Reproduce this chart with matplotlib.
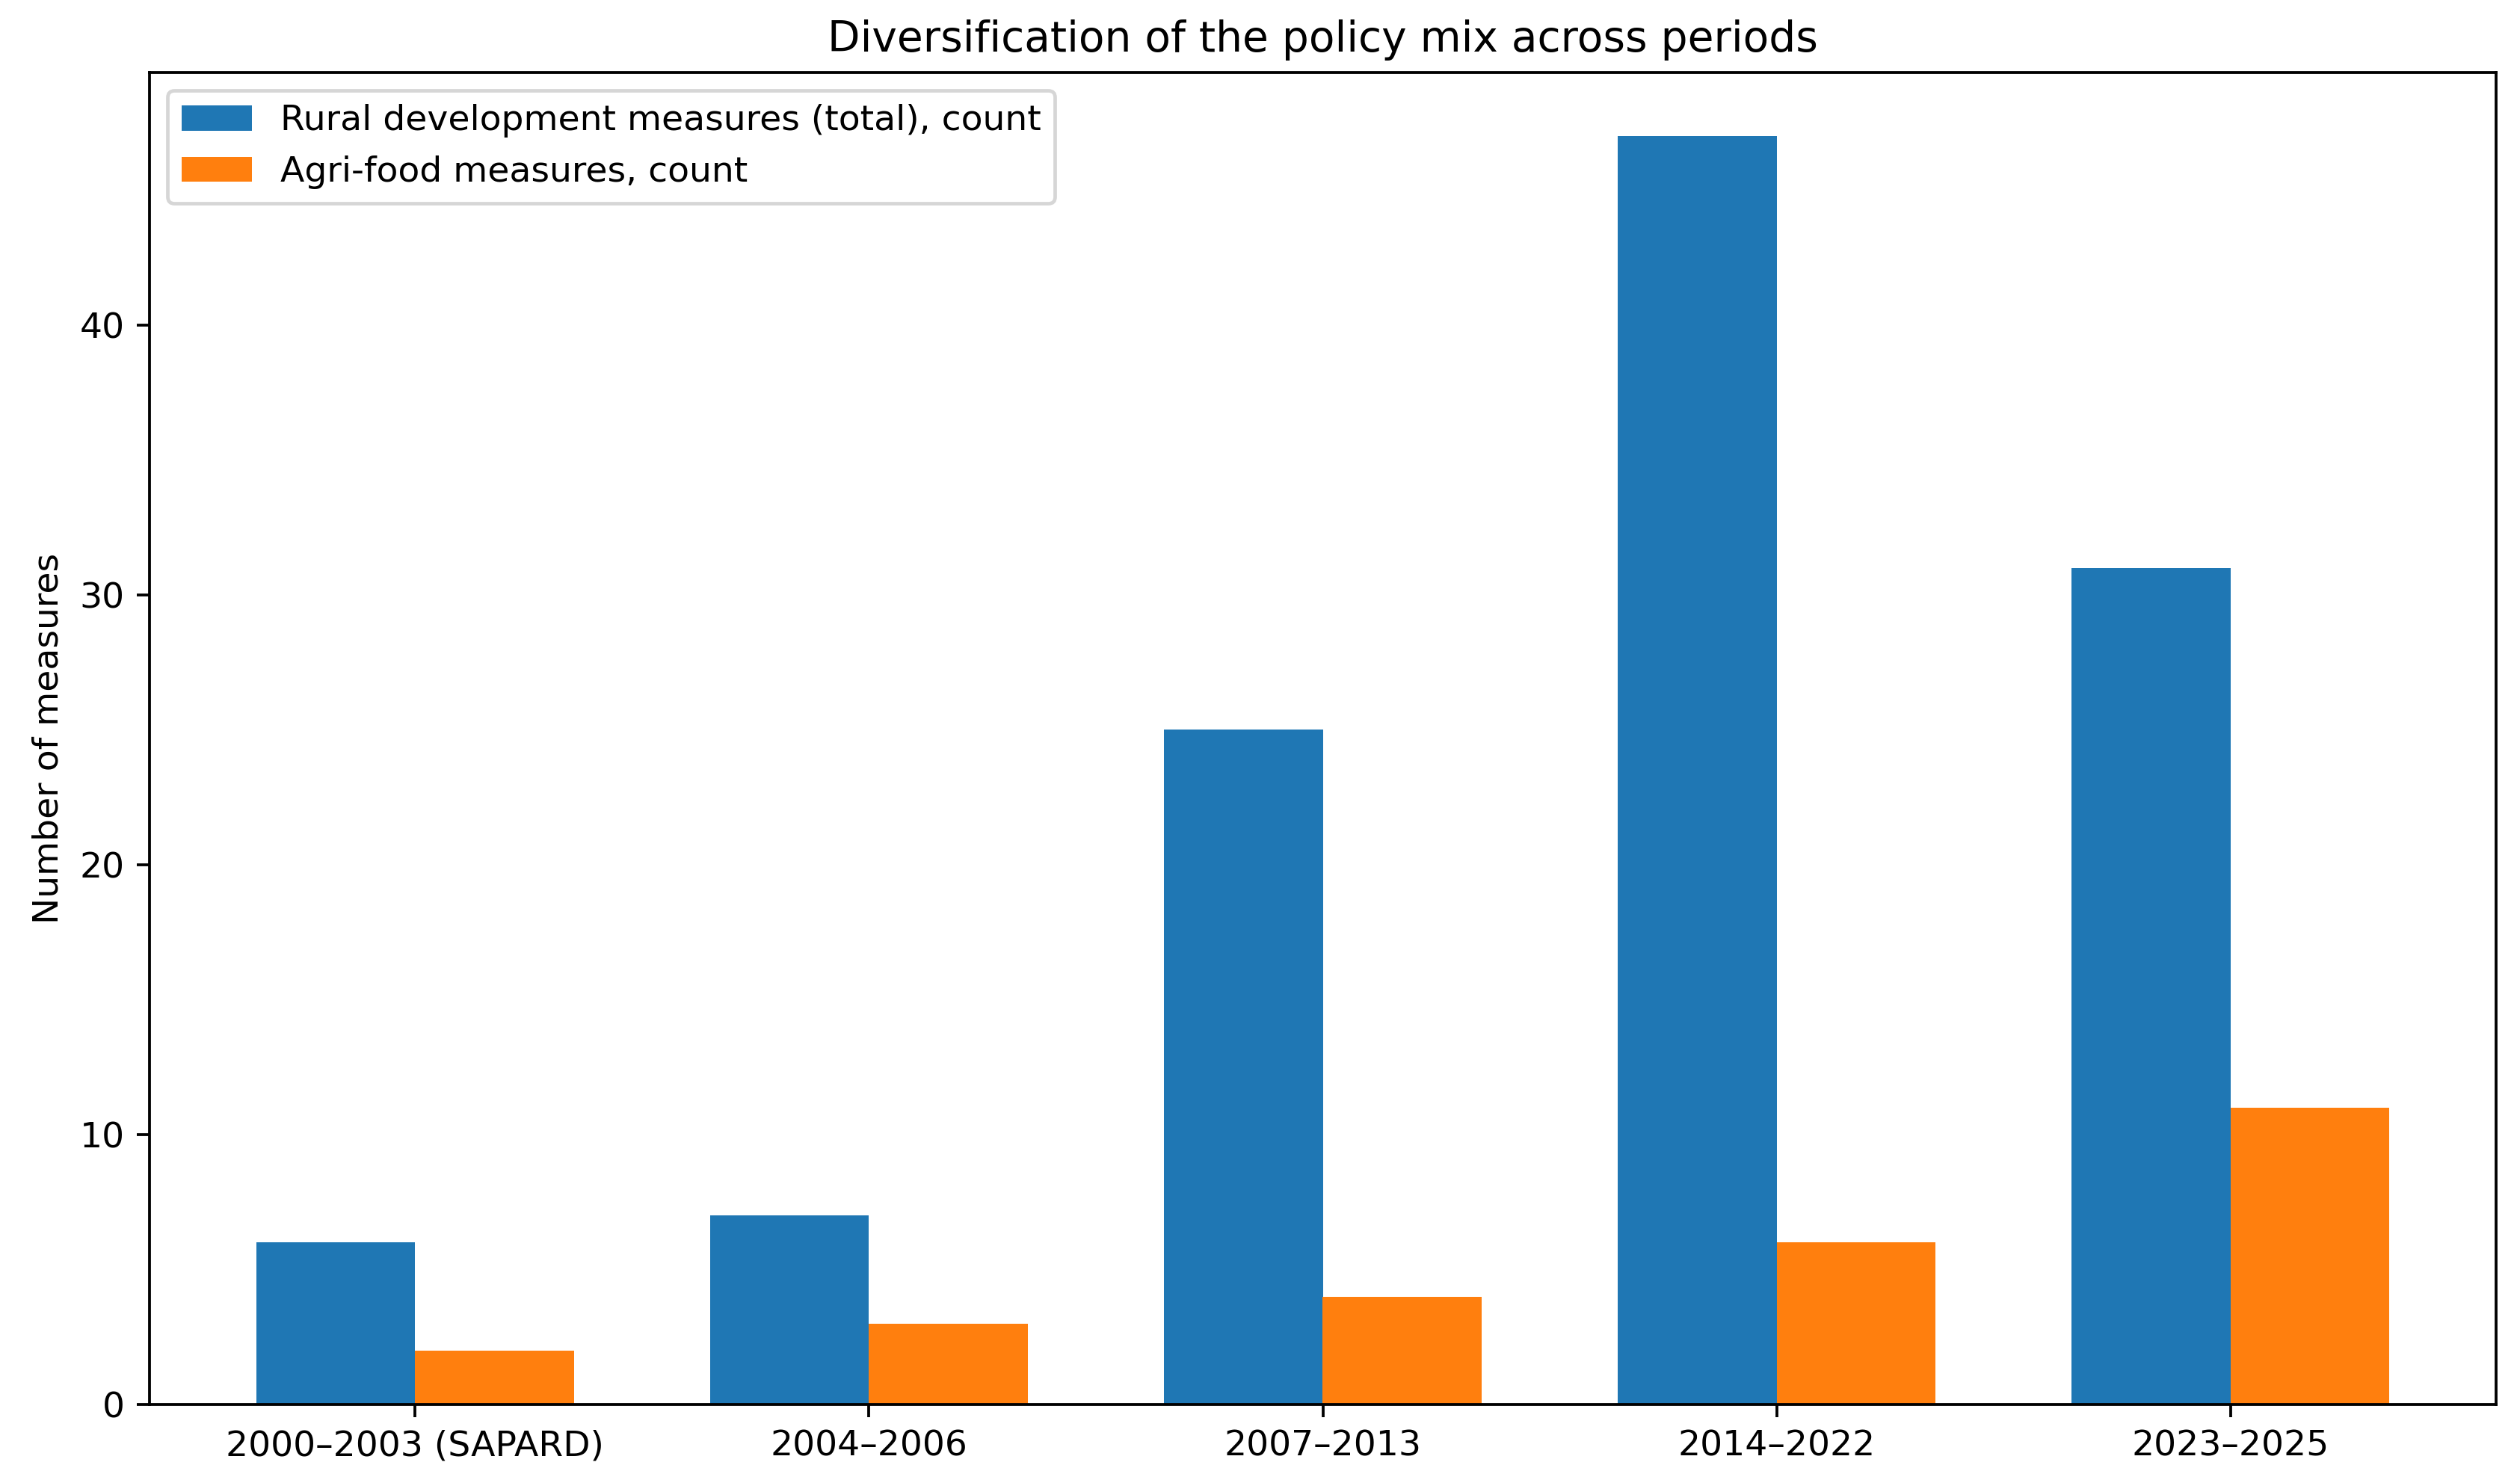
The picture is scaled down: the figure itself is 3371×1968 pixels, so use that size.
import numpy as np
import matplotlib
matplotlib.use("Agg")
import matplotlib.pyplot as plt

periods = ["2000–2003 (SAPARD)", "2004–2006", "2007–2013", "2014–2022", "2023–2025"]
rural_total = [6, 7, 25, 47, 31]
agri_food = [2, 3, 4, 6, 11]

DPI = 340
fig = plt.figure(figsize=(3371 / DPI, 1968 / DPI), dpi=DPI)
ax = fig.add_axes([200 / 3371, 1 - 1879 / 1968, (3339 - 200) / 3371, (1879 - 97) / 1968])

x = np.arange(len(periods))
width = 0.35
ax.bar(x - width / 2, rural_total, width, label="Rural development measures (total), count", color="#1f77b4")
ax.bar(x + width / 2, agri_food, width, label="Agri-food measures, count", color="#ff7f0e")

ax.set_xticks(x)
ax.set_xticklabels(periods)
ax.set_ylabel("Number of measures")
ax.set_title("Diversification of the policy mix across periods")
ax.legend(loc="upper left")

fig.savefig("out.png", dpi=DPI)
